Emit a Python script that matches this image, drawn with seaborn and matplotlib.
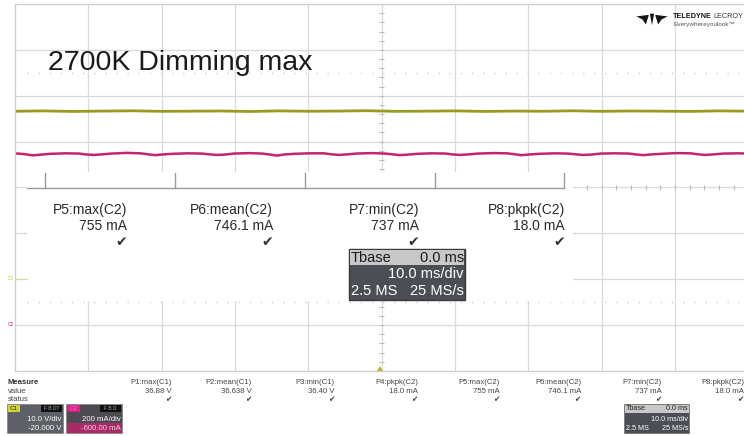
import numpy as np
import pandas as pd
import matplotlib
matplotlib.use("Agg")
import matplotlib.pyplot as plt
import seaborn as sns
from matplotlib.patches import Rectangle, Polygon

sns.set_style("white")
plt.rcParams['font.family'] = ['Liberation Sans', 'DejaVu Sans']

# scope settings
c1_volts_div = 10.0
c1_offset_v = -20.0
c2_ma_div = 200.0
c2_offset_ma = -600.0
time_div_ms = 10.0

# C1 trace (V)
c1_time_ms = [-50, -46, -42, -38, -34, -30, -26, -22, -18, -14, -10, -6, -2,
              2, 6, 10, 14, 18, 22, 26, 30, 34, 38, 42, 46, 50]
c1_volts = [36.62, 36.70, 36.58, 36.66, 36.72, 36.60, 36.64, 36.68, 36.56, 36.70,
            36.62, 36.66, 36.74, 36.60, 36.64, 36.70, 36.58, 36.66, 36.62, 36.72,
            36.60, 36.68, 36.64, 36.58, 36.70, 36.64]

# C2 trace (mA), 120 Hz ripple dips
c2_time_ms = [-50.0,
              -49.6, -48.6, -47.6, -46.6, -45.1, -43.1,
              -41.3, -40.3, -39.3, -38.3, -36.8, -34.8,
              -32.9, -31.9, -30.9, -29.9, -28.4, -26.4,
              -24.6, -23.6, -22.6, -21.6, -20.1, -18.1,
              -16.3, -15.3, -14.3, -13.3, -11.8, -9.8,
              -7.9, -6.9, -5.9, -4.9, -3.4, -1.4,
              0.4, 1.4, 2.4, 3.4, 4.9, 6.9,
              8.7, 9.7, 10.7, 11.7, 13.2, 15.2,
              17.1, 18.1, 19.1, 20.1, 21.6, 23.6,
              25.4, 26.4, 27.4, 28.4, 29.9, 31.9,
              33.7, 34.7, 35.7, 36.7, 38.2, 40.2,
              42.1, 43.1, 44.1, 45.1, 46.6, 48.6,
              50.0]
c2_ma = [748,
         748, 745, 740, 743, 747, 749,
         748, 744, 742, 744, 748, 751,
         749, 745, 741, 744, 747, 749,
         748, 745, 742, 743, 748, 750,
         748, 744, 739, 744, 747, 749,
         749, 745, 742, 744, 748, 750,
         748, 745, 741, 743, 747, 749,
         748, 744, 742, 744, 748, 750,
         749, 745, 741, 744, 747, 749,
         748, 745, 742, 743, 748, 749,
         748, 744, 741, 744, 747, 750,
         749, 745, 742, 744, 748, 749,
         748]

# measurement table
meas_names = ["P1:max(C1)", "P2:mean(C1)", "P3:min(C1)", "P4:pkpk(C2)",
              "P5:max(C2)", "P6:mean(C2)", "P7:min(C2)", "P8:pkpk(C2)"]
meas_values = ["36.88 V", "36.638 V", "36.40 V", "18.0 mA",
               "755 mA", "746.1 mA", "737 mA", "18.0 mA"]
big_names = meas_names[4:]
big_values = meas_values[4:]

title = "2700K Dimming max"
c1_col = "#9a9a22"
c2_col = "#c2246e"
grid_col = "#dadada"

df1 = pd.DataFrame({"t": c1_time_ms, "div": (np.array(c1_volts) + c1_offset_v) / c1_volts_div})
df2 = pd.DataFrame({"t": c2_time_ms, "div": (np.array(c2_ma) + c2_offset_ma) / c2_ma_div})

W, H = 744, 436
fig = plt.figure(figsize=(W / 100, H / 100), dpi=100)

# grid area: 10 x 8 divisions
gl, gt, gw, gh = 15, 4, 733.3, 367
ax = fig.add_axes([gl / W, 1 - (gt + gh) / H, gw / W, gh / H])
ax.set_xlim(-5 * time_div_ms, 5 * time_div_ms)
ax.set_ylim(-4, 4)
ax.set_xticks(np.arange(-50, 51, 10))
ax.set_yticks(np.arange(-4, 5, 1))
ax.tick_params(length=0, labelbottom=False, labelleft=False)
ax.grid(True, color=grid_col, linewidth=0.9)
for s in ax.spines.values():
    s.set_color("#cfcfcf")
    s.set_linewidth(0.9)

# center cross ticks
ax.hlines(np.arange(-4, 4.01, 0.2), -0.3, 0.3, color="#bdbdbd", linewidth=0.8)
ax.vlines(np.arange(-50, 50.1, 2), -0.045, 0.045, color="#bdbdbd", linewidth=0.8)
# dotted half-div lines
for yy in (2.5, -2.5):
    ax.axhline(yy, xmin=12 / gw, color="#cccccc", linewidth=1.0, linestyle=(0, (1, 7)))

sns.lineplot(data=df1, x="t", y="div", ax=ax, color=c1_col, linewidth=2.0, sort=False)
sns.lineplot(data=df2, x="t", y="div", ax=ax, color=c2_col, linewidth=1.8, sort=False)
ax.set_xlabel("")
ax.set_ylabel("")

# overlay in pixel coordinates
ov = fig.add_axes([0, 0, 1, 1])
ov.set_xlim(0, W)
ov.set_ylim(H, 0)
ov.axis("off")
ov.set_zorder(3)

ov.text(48, 70, title, fontsize=20.5, color="#1a1a1a", va="baseline", ha="left")

# big measurement panel
ov.add_patch(Rectangle((27, 172), 546, 129, facecolor="white", edgecolor="none"))
ov.plot([27, 564], [188, 188], color="#9a9a9a", linewidth=1.0)
for xx in (45, 175, 305, 435, 564):
    ov.plot([xx, xx], [173, 188], color="#9a9a9a", linewidth=1.0)
for i, (nm, vv) in enumerate(zip(big_names, big_values)):
    xr = 127 + i * 146
    ov.text(xr, 210, nm, fontsize=10, ha="right", va="center", color="#2a2a2a")
    ov.text(xr, 226, vv, fontsize=10, ha="right", va="center", color="#2a2a2a")
    ov.text(xr - 6, 242, "\u2714", fontsize=10, ha="center", va="center", color="#333333",
            family=["DejaVu Sans"])

# big timebase box
ov.add_patch(Rectangle((349, 249), 116, 51, facecolor="#4b4f55", edgecolor="#3a3a3a", linewidth=1.0))
ov.add_patch(Rectangle((350, 250), 114, 15, facecolor="#c8c8c8", edgecolor="none"))
ov.text(351, 257.5, "Tbase", fontsize=10.5, ha="left", va="center", color="#1a1a1a")
ov.text(464, 257.5, "0.0 ms", fontsize=10.5, ha="right", va="center", color="#1a1a1a")
ov.text(464, 274, "10.0 ms/div", fontsize=10.5, ha="right", va="center", color="white")
ov.text(351, 291, "2.5 MS", fontsize=10.5, ha="left", va="center", color="white")
ov.text(464, 291, "25 MS/s", fontsize=10.5, ha="right", va="center", color="white")

# channel markers on the left
ov.text(8, 278, "C1", fontsize=3.5, color="#c8c830", ha="left", va="center")
ov.plot([15, 27], [279, 279], color="#d8d8a0", linewidth=0.8)
ov.text(8, 324, "C2", fontsize=3.5, color=c2_col, ha="left", va="center")
# trigger marker
ov.add_patch(Polygon([[377, 371], [383, 371], [380, 366]], closed=True, facecolor="#b8b830", edgecolor="none"))

# logo
ov.add_patch(Polygon([[634, 16], [650, 14], [646, 26], [642, 20]], closed=True, facecolor="#151515"))
ov.add_patch(Polygon([[670, 16], [654, 14], [658, 26], [662, 20]], closed=True, facecolor="#151515"))
ov.add_patch(Polygon([[649, 13], [655, 13], [652, 29]], closed=True, facecolor="#151515"))
ov.text(673, 16.5, "TELEDYNE", fontsize=5.2, fontweight="bold", color="#151515", ha="left", va="center")
ov.text(713, 16.5, "LECROY", fontsize=5.2, color="#333333", ha="left", va="center")
ov.text(673, 24, "Everywhereyoulook\u2122", fontsize=4.6, color="#555555", ha="left", va="center")

# bottom measurement strip
ov.text(8, 382, "Measure", fontsize=5.6, fontweight="bold", color="#333333", ha="left", va="center")
ov.text(8, 391, "value", fontsize=5.6, color="#444444", ha="left", va="center")
ov.text(8, 399.5, "status", fontsize=5.6, color="#444444", ha="left", va="center")
col_right = [172, 252, 335, 418, 500, 581, 662, 744]
for xr, nm, vv in zip(col_right, meas_names, meas_values):
    ov.text(xr, 382, nm, fontsize=5.6, ha="right", va="center", color="#444444")
    ov.text(xr, 391, vv, fontsize=5.6, ha="right", va="center", color="#444444")
    ov.text(xr - 4, 399.5, "\u2714", fontsize=5.5, ha="center", va="center", color="#444444",
            family=["DejaVu Sans"])

# channel descriptor boxes
ov.add_patch(Rectangle((7, 404), 56, 29, facecolor="#5d6167", edgecolor="#888888", linewidth=0.6))
ov.add_patch(Rectangle((8, 405), 12, 7, facecolor="#d6d630", edgecolor="none"))
ov.text(14, 408.5, "C1", fontsize=4.5, ha="center", va="center", color="#222222")
ov.add_patch(Rectangle((41, 405), 21, 7, facecolor="#111111", edgecolor="none"))
ov.text(51.5, 408.5, "F B DT", fontsize=3.5, ha="center", va="center", color="#aaaaaa")
ov.text(61, 419, "10.0 V/div", fontsize=5.6, ha="right", va="center", color="white")
ov.text(61, 428, "-20.000 V", fontsize=5.6, ha="right", va="center", color="white")

ov.add_patch(Rectangle((66, 404), 56, 29, facecolor="#4e4a52", edgecolor="#888888", linewidth=0.6))
ov.add_patch(Rectangle((66.5, 423), 55, 9.5, facecolor="#a92a66", edgecolor="none"))
ov.add_patch(Rectangle((67, 405), 13, 7, facecolor="#e0208a", edgecolor="none"))
ov.text(73.5, 408.5, "C2", fontsize=4.5, ha="center", va="center", color="#f070b0")
ov.add_patch(Rectangle((100, 405), 21, 7, facecolor="#111111", edgecolor="none"))
ov.text(110.5, 408.5, "F B D", fontsize=3.5, ha="center", va="center", color="#aaaaaa")
ov.text(121, 419, "200 mA/div", fontsize=5.6, ha="right", va="center", color="white")
ov.text(121, 428, "-600.00 mA", fontsize=5.6, ha="right", va="center", color="#f0d0e0")

# small timebase box
ov.add_patch(Rectangle((624, 404), 65, 29, facecolor="#4b4f55", edgecolor="#777777", linewidth=0.6))
ov.add_patch(Rectangle((624.5, 404.5), 64, 8, facecolor="#c8c8c8", edgecolor="none"))
ov.text(626, 408.5, "Tbase", fontsize=5.2, ha="left", va="center", color="#222222")
ov.text(688, 408.5, "0.0 ms", fontsize=5.2, ha="right", va="center", color="#222222")
ov.text(688, 419, "10.0 ms/div", fontsize=5.2, ha="right", va="center", color="white")
ov.text(626, 428, "2.5 MS", fontsize=5.2, ha="left", va="center", color="white")
ov.text(688, 428, "25 MS/s", fontsize=5.2, ha="right", va="center", color="white")

fig.savefig("out.png", dpi=100)
